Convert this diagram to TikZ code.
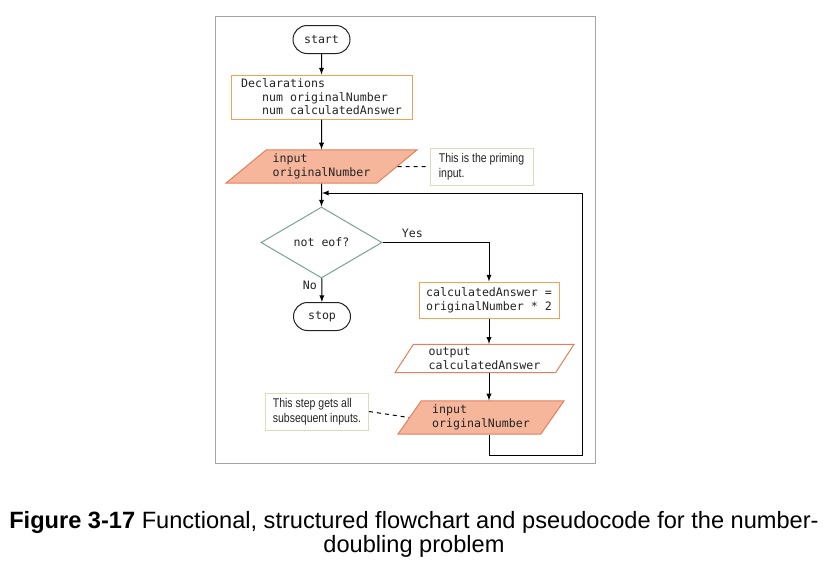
\documentclass[tikz,border=0pt]{standalone}
\usepackage{fontspec}
\setmainfont{Liberation Sans}
\newfontfamily\flowfont{DejaVu Sans Mono}
\newfontfamily\notefont[FakeStretch=0.83]{Liberation Sans}
\usetikzlibrary{positioning,arrows,calc}
\usetikzlibrary{shapes.geometric,shapes.misc}
\definecolor{boxorange}{RGB}{236,164,84}
\definecolor{iofill}{RGB}{245,182,156}
\definecolor{ioedge}{RGB}{226,128,92}
\definecolor{diaedge}{RGB}{122,162,152}
\definecolor{noteedge}{RGB}{222,218,186}
\definecolor{framegray}{RGB}{165,165,165}
\definecolor{ink}{RGB}{35,35,35}

\begin{document}
\begin{tikzpicture}[>=latex, x=0.75pt, y=-0.75pt, line width=0.75pt,
	font=\flowfont\fontsize{8.7}{10.2}\selectfont, text=ink,
	term/.style={rounded rectangle, draw=ink, minimum width=42.75pt,
		minimum height=21pt, inner sep=0pt},
	procbox/.style={rectangle, draw=boxorange, align=left, inner sep=0pt},
	io/.style={trapezium, trapezium stretches body, draw=ioedge,
		align=left, inner xsep=0pt, inner ysep=3.1pt},
	decision/.style={diamond, draw=diaedge, aspect=1.7, inner sep=0pt,
		minimum width=90.75pt, minimum height=53.25pt},
	note/.style={rectangle, draw=noteedge, align=left, inner sep=0pt,
		font=\notefont\fontsize{9.5}{11}\selectfont,
		minimum width=77.25pt, minimum height=27.75pt}]
	\useasboundingbox (0,0) rectangle (828,562);
	\draw[framegray] (215,16) rectangle (595,463);

	\node[term] (Start) at (321.5,39.5) {start};
	\node[procbox, minimum width=135.75pt, minimum height=33pt] 
		  (Decl) at (321.5,97)
		  {Declarations\\\phantom{nnn}num originalNumber\\\phantom{nnn}num calculatedAnswer};
	\node[io, fill=iofill, minimum width=143.25pt,
		  trapezium left angle=39.5, trapezium right angle=140.5] 
		  (In1) at (321.5,166.5) {input\\originalNumber};
	\node[note] (N1) at (481.5,166.5) {This is the priming\\input.};
	\node[decision] (Test) at (321.5,242.5) {not eof?};
	\node[term] (Stop) at (322,316.5) {stop};
	\node[procbox, minimum width=105pt, minimum height=27pt] 
		  (Calc) at (489,300) {calculatedAnswer =\\originalNumber * 2};
	\node[io, fill=white, minimum width=134.25pt, inner ysep=2.4pt,
		  trapezium left angle=57, trapezium right angle=123] 
		  (Out) at (484.5,358.5) {output\\calculatedAnswer};
	\node[io, fill=iofill, minimum width=124.5pt,
		  trapezium left angle=55, trapezium right angle=125] 
		  (In2) at (481,417.5) {input\\originalNumber};
	\node[note] (N2) at (317,411.5) {This step gets all\\subsequent inputs.};

	\coordinate (L1) at (489,455);
	\coordinate (L2) at (582,455);
	\coordinate (L3) at (582,193);
	\coordinate (L4) at (322,193);

	\draw[->]  (Start) -- (Decl);
	\draw[->]  (Decl) -- (In1);
	\draw[->]  (In1) -- (Test);
	\draw[dashed]  (In1.east) -- (N1.west);
	\draw[->]  (Test.east) -| node[pos=0.14,above]{Yes} (Calc.north);
	\draw[->]  (Test) -- node[pos=0.3,left]{No} (Stop);
	\draw[->]  (Calc) -- (Calc |- Out.north);
	\draw[->]  (Calc |- Out.south) -- (Calc |- In2.north);
	\draw[dashed]  (N2.east) -- (In2.west);
	\draw[->]  (Calc |- In2.south) -- (L1) -- (L2) -- (L3) -- (L4);

	\node[font=\fontsize{17.7}{18}\selectfont, align=center, anchor=base, text=black] 
		  (Cap) at (414,552)
		  {\textbf{Figure 3-17} Functional, structured flowchart and pseudocode for the number-\\doubling problem};
\end{tikzpicture}
\end{document}
